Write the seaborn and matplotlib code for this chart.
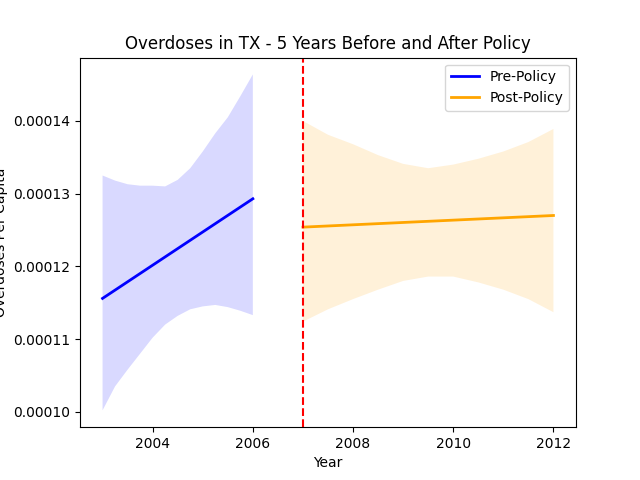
import numpy as np
import pandas as pd
import matplotlib
matplotlib.use('Agg')
import matplotlib.pyplot as plt
import seaborn as sns

# fitted trend lines
pre_fit_years = [2003, 2006]
pre_fit_rates = [0.0001156, 0.0001293]
post_fit_years = [2007, 2012]
post_fit_rates = [0.0001254, 0.0001270]

# confidence bands around each trend
pre_band_years = [2003, 2003.25, 2003.5, 2003.75, 2004, 2004.25, 2004.5,
                  2004.75, 2005, 2005.25, 2005.5, 2005.75, 2006]
pre_band_upper = [0.0001325, 0.0001318, 0.0001313, 0.0001311, 0.0001311, 0.0001310, 0.0001319,
                  0.0001335, 0.0001358, 0.0001383, 0.0001405, 0.0001434, 0.0001464]
pre_band_lower = [0.0001002, 0.0001035, 0.0001058, 0.0001080, 0.0001102, 0.0001120, 0.0001132,
                  0.0001141, 0.0001145, 0.0001147, 0.0001144, 0.0001139, 0.0001133]

post_band_years = [2007, 2007.5, 2008, 2008.5, 2009, 2009.5,
                   2010, 2010.5, 2011, 2011.5, 2012]
post_band_upper = [0.0001400, 0.0001381, 0.0001368, 0.0001353, 0.0001341, 0.0001335,
                   0.0001340, 0.0001348, 0.0001358, 0.0001371, 0.0001389]
post_band_lower = [0.0001124, 0.0001141, 0.0001155, 0.0001168, 0.0001180, 0.0001186,
                   0.0001186, 0.0001178, 0.0001168, 0.0001155, 0.0001137]

policy_year = 2007

fig, ax = plt.subplots(figsize=(6.4, 4.8), dpi=100)

ax.fill_between(pre_band_years, pre_band_lower, pre_band_upper,
                facecolor='blue', alpha=0.15, linewidth=0)
ax.fill_between(post_band_years, post_band_lower, post_band_upper,
                facecolor='orange', alpha=0.15, linewidth=0)

sns.lineplot(x=pre_fit_years, y=pre_fit_rates, color='blue', linewidth=2,
             label='Pre-Policy', ax=ax)
sns.lineplot(x=post_fit_years, y=post_fit_rates, color='orange', linewidth=2,
             label='Post-Policy', ax=ax)

ax.axvline(policy_year, color='red', linestyle='--')

ax.set_title('Overdoses in TX - 5 Years Before and After Policy')
ax.set_xlabel('Year')
ax.set_ylabel('Overdoses Per Capita')
ax.legend(loc='upper right')

plt.savefig('out.png')
